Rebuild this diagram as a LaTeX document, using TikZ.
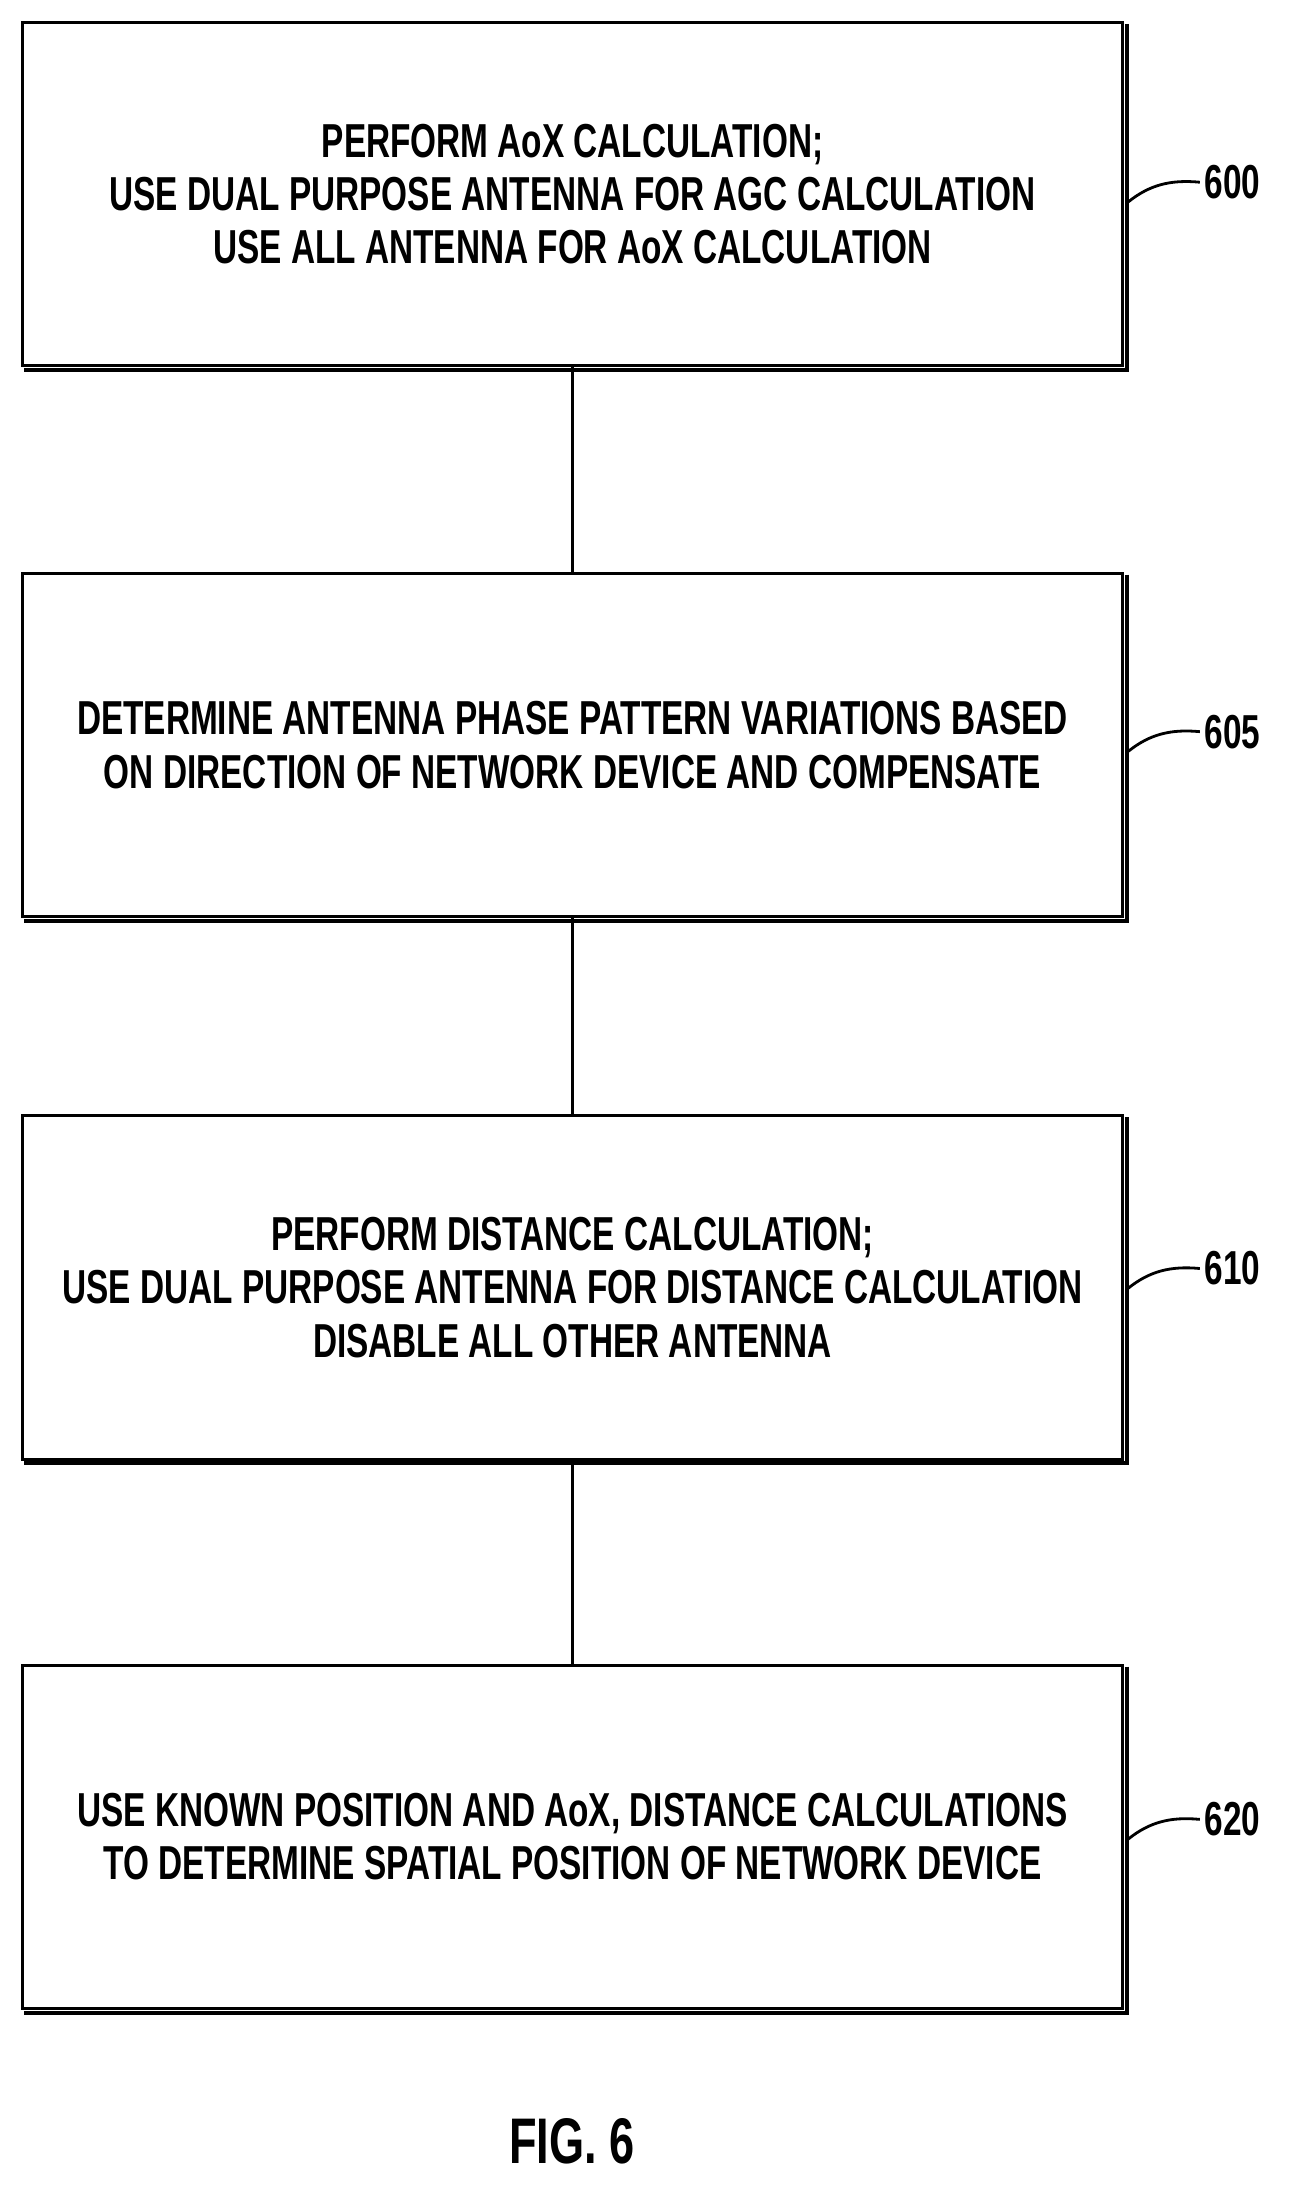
\documentclass[tikz,border=0pt]{standalone}
\usepackage{fontspec}
\setmainfont{Liberation Sans}[FakeStretch=0.7]
\begin{document}
\begin{tikzpicture}[x=1pt,y=-1pt,
  stepbox/.style={draw,line width=2pt,minimum width=785pt,minimum height=245pt,anchor=north west,inner sep=0pt,
     font=\bfseries\fontsize{34}{38}\selectfont,align=center},
  lab/.style={font=\bfseries\fontsize{34}{38}\selectfont,anchor=west}]
\useasboundingbox (0,0) rectangle (921,1566);
\foreach \n/\y/\t/\l/\ly in {
 a/15/{PERFORM AoX CALCULATION;\\USE DUAL PURPOSE ANTENNA FOR AGC CALCULATION\\USE ALL ANTENNA FOR AoX CALCULATION}/600/130,
 b/408/{DETERMINE ANTENNA PHASE PATTERN VARIATIONS BASED\\ON DIRECTION OF NETWORK DEVICE AND COMPENSATE}/605/522,
 c/795/{PERFORM DISTANCE CALCULATION;\\USE DUAL PURPOSE ANTENNA FOR DISTANCE CALCULATION\\DISABLE ALL OTHER ANTENNA}/610/905,
 d/1187/{USE KNOWN POSITION AND AoX, DISTANCE CALCULATIONS\\TO DETERMINE SPATIAL POSITION OF NETWORK DEVICE}/620/1298}{
  \node[stepbox] (\n) at (15,\y) {\t};
  \draw[line width=3pt] ([xshift=2pt,yshift=-2pt]\n.north east) -- ([xshift=2pt,yshift=-2pt]\n.south east) -- ([xshift=2pt,yshift=-2pt]\n.south west);
  \node[lab] (l\n) at (856,\ly) {\l};
  \draw[line width=2pt] (805,\ly+14) .. controls (820,\ly+2) and (835,\ly-2) .. (l\n.west);
}
\draw[line width=2pt] (a.south) -- (b.north);
\draw[line width=2pt] (b.south) -- (c.north);
\draw[line width=2pt] (c.south) -- (d.north);
\node[font=\bfseries\fontsize{46}{50}\selectfont] (fig) at (408,1528) {FIG. 6};
\end{tikzpicture}
\end{document}
